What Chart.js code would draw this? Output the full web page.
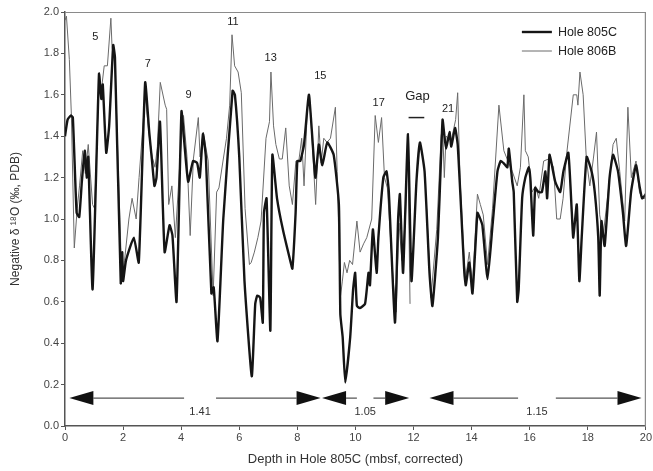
<!DOCTYPE html>
<html>
<head>
<meta charset="utf-8">
<title>Negative d18O, Hole 805C vs 806B</title>
<script src="https://cdn.jsdelivr.net/npm/chart.js@4.4.1/dist/chart.umd.min.js"></script>
<style>
    html, body { margin: 0; padding: 0; background: #fff; }
    #wrap { width: 653px; height: 471px; }
</style>
</head>
<body>
<div id="wrap"><canvas id="isoChart" width="653" height="471"></canvas></div>
<script>
// Hole 805C (garis tebal)
const depth805 = [0.00, 0.09, 0.20, 0.27, 0.40, 0.49, 0.58, 0.68, 0.75, 0.80, 0.95, 1.17, 1.25, 1.30, 1.42, 1.52, 1.66, 1.72, 1.92, 1.97,
    2.00, 2.10, 2.37, 2.54, 2.76, 2.90, 2.99, 3.08, 3.15, 3.27, 3.43, 3.60, 3.70, 3.84, 4.01, 4.12, 4.24, 4.41, 4.55, 4.64,
    4.75, 4.85, 5.04, 5.12, 5.25, 5.45, 5.77, 5.85, 6.00, 6.18, 6.43, 6.55, 6.62, 6.72, 6.81, 6.85, 6.94, 7.07, 7.14, 7.30,
    7.50, 7.77, 7.83, 7.94, 8.00, 8.10, 8.23, 8.40, 8.62, 8.74, 8.86, 9.03, 9.25, 9.43, 9.48, 9.56, 9.65, 9.82, 9.92, 9.99,
    10.05, 10.15, 10.33, 10.45, 10.50, 10.60, 10.73, 10.79, 10.96, 11.07, 11.15, 11.36, 11.47, 11.53, 11.64, 11.81, 11.93, 12.10, 12.22, 12.38,
    12.55, 12.65, 12.84, 12.95, 13.00, 13.05, 13.12, 13.24, 13.30, 13.43, 13.52, 13.63, 13.75, 13.80, 13.92, 14.03, 14.20, 14.27, 14.37, 14.55,
    14.72, 14.89, 15.00, 15.10, 15.23, 15.28, 15.40, 15.45, 15.57, 15.62, 15.74, 15.85, 15.97, 16.02, 16.12, 16.19, 16.30, 16.42, 16.54, 16.60,
    16.68, 16.75, 16.88, 17.05, 17.16, 17.33, 17.45, 17.50, 17.62, 17.71, 17.79, 17.96, 18.13, 18.24, 18.36, 18.41, 18.47, 18.58, 18.75, 18.87,
    19.04, 19.21, 19.32, 19.49, 19.66, 19.78, 19.87, 20.00];
const iso805 = [1.40, 1.48, 1.50, 1.49, 1.03, 1.01, 1.18, 1.33, 1.20, 1.30, 0.66, 1.70, 1.58, 1.65, 1.32, 1.45, 1.84, 1.78, 0.69, 0.84,
    0.70, 0.80, 0.91, 0.79, 1.66, 1.42, 1.29, 1.16, 1.20, 1.47, 0.84, 0.97, 0.92, 0.60, 1.52, 1.35, 1.18, 1.28, 1.27, 1.20,
    1.41, 1.30, 0.64, 0.67, 0.41, 1.00, 1.62, 1.60, 1.30, 0.70, 0.24, 0.59, 0.63, 0.62, 0.50, 1.03, 1.10, 0.46, 1.31, 1.10,
    0.95, 0.79, 0.76, 1.03, 1.28, 1.28, 1.36, 1.60, 1.20, 1.36, 1.26, 1.37, 1.31, 1.07, 0.54, 0.43, 0.21, 0.43, 0.66, 0.74,
    0.58, 0.57, 0.59, 0.74, 0.68, 0.95, 0.74, 0.91, 1.20, 1.23, 1.13, 0.50, 1.00, 1.12, 0.74, 1.41, 0.70, 1.18, 1.37, 1.23,
    0.74, 0.58, 0.91, 1.31, 1.48, 1.42, 1.34, 1.42, 1.35, 1.44, 1.36, 1.07, 0.74, 0.68, 0.79, 0.64, 1.03, 1.01, 0.97, 0.71,
    0.97, 1.23, 1.28, 1.27, 1.25, 1.34, 1.18, 1.13, 0.60, 0.66, 1.10, 1.20, 1.25, 1.20, 0.92, 1.15, 1.13, 1.13, 1.23, 1.10,
    1.31, 1.27, 1.18, 1.13, 1.23, 1.32, 1.03, 0.91, 1.07, 0.70, 0.91, 1.30, 1.23, 1.13, 0.91, 0.63, 0.99, 0.87, 1.20, 1.31,
    1.23, 1.03, 0.87, 1.13, 1.26, 1.16, 1.10, 1.12];

// Hole 806B (garis tipis), null = gap
const depth806 = [0.00, 0.05, 0.15, 0.22, 0.32, 0.42, 0.50, 0.61, 0.70, 0.80, 0.95, 1.02, 1.18, 1.25, 1.35, 1.46, 1.58, 1.62, 1.72, 1.92,
    1.97, 2.05, 2.20, 2.31, 2.45, 2.55, 2.76, 2.90, 3.00, 3.10, 3.18, 3.28, 3.45, 3.50, 3.57, 3.68, 3.80, 3.97, 4.08, 4.20,
    4.31, 4.42, 4.59, 4.65, 4.76, 4.93, 5.10, 5.22, 5.30, 5.44, 5.56, 5.67, 5.75, 5.84, 5.96, 6.07, 6.20, 6.35, 6.41, 6.52,
    6.64, 6.75, 6.92, 7.04, 7.09, 7.18, 7.26, 7.38, 7.48, 7.60, 7.72, 7.83, 7.95, 8.05, 8.15, 8.23, 8.35, 8.42, 8.52, 8.63,
    8.74, 8.82, 8.91, 9.02, 9.14, 9.31, 9.37, 9.48, 9.55, 9.62, 9.71, 9.80, 9.90, 10.05, 10.16, 10.28, 10.39, 10.56, 10.68, 10.79,
    10.90, 11.00, 11.10, 11.30, 11.40, 11.50, 11.60, 11.72, 11.80, 11.88, 12.10, 12.45, 12.60, 12.80, 12.95, 13.00, 13.06, 13.12, 13.30, 13.45,
    13.52, 13.60, 13.75, 13.80, 13.92, 14.03, 14.20, 14.30, 14.40, 14.55, 14.72, 14.94, 15.11, 15.25, 15.40, 15.57, 15.68, 15.80, 15.85, 15.95,
    16.08, 16.20, 16.31, 16.48, 16.65, 16.82, 16.93, 17.05, 17.15, 17.27, 17.50, 17.62, 17.66, 17.73, 17.84, 17.95, 18.07, 18.19, 18.30, 18.41,
    18.53, 18.70, 18.87, 18.98, 19.10, 19.27, 19.38, 19.50, 19.66, 19.78, 19.87, 20.00];
const iso806 = [1.96, 1.98, 1.77, 1.50, 0.86, 1.05, 1.16, 1.33, 1.22, 1.36, 1.07, 1.05, 1.71, 1.62, 1.74, 1.74, 1.97, 1.83, 1.75, 0.87,
    0.72, 0.80, 1.00, 1.10, 1.00, 1.20, 1.60, 1.40, 1.30, 1.25, 1.35, 1.66, 1.55, 1.53, 1.07, 1.16, 0.91, 1.31, 1.50, 1.30,
    0.92, 1.29, 1.49, 1.30, 1.42, 1.28, 0.63, 1.13, 1.15, 1.28, 1.39, 1.55, 1.89, 1.74, 1.71, 1.61, 1.05, 0.78, 0.79, 0.84,
    0.91, 0.99, 1.39, 1.47, 1.71, 1.45, 1.36, 1.29, 1.29, 1.44, 1.16, 1.07, 1.28, 1.28, 1.39, 1.16, 1.55, 1.60, 1.35, 1.07,
    1.45, 1.27, 1.39, 1.37, 1.39, 1.54, 1.23, 0.62, 0.70, 0.79, 0.74, 0.80, 0.78, 0.99, 0.84, 0.88, 0.91, 1.00, 1.50, 1.37,
    1.49, 1.20, 1.15, 0.70, 0.55, 0.98, 0.80, 1.00, 1.38, 0.59, null, 1.05, 0.62, 0.95, 1.40, 1.45, 1.20, 1.40, 1.38, 1.48,
    1.61, 1.20, 0.78, 0.72, 0.84, 0.68, 1.12, 1.07, 1.02, 0.78, 1.05, 1.55, 1.33, 1.28, 1.23, 1.16, 1.25, 1.60, 1.33, 1.30,
    1.13, 1.16, 1.10, 1.28, 1.29, 1.25, 1.00, 1.00, 1.10, 1.31, 1.60, 1.60, 1.55, 1.71, 1.60, 1.29, 1.16, 1.29, 1.42, 1.02,
    0.92, 1.13, 1.36, 1.39, 1.23, 0.99, 1.54, 1.20, 1.28, 1.13, 1.10, 1.10];

// Tick sumbu
const xTicks = [0, 2, 4, 6, 8, 10, 12, 14, 16, 18, 20];
const yTicks = [0.0, 0.2, 0.4, 0.6, 0.8, 1.0, 1.2, 1.4, 1.6, 1.8, 2.0];

// Label tahap isotop (kedalaman, nilai)
const stageNames = ['5', '7', '9', '11', '13', '15', '17', '21'];
const stageDepth = [1.04, 2.85, 4.25, 5.78, 7.08, 8.79, 10.80, 13.19];
const stageValue = [1.88, 1.75, 1.60, 1.95, 1.78, 1.69, 1.56, 1.53];

// Panah rasio laju sedimentasi
const arrowStart = [0.15, 8.85, 12.55];
const arrowEnd = [8.80, 11.85, 19.85];
const arrowGapStart = [4.10, 10.05, 15.60];
const arrowGapEnd = [5.20, 10.62, 16.90];
const arrowRatio = ['1.41', '1.05', '1.15'];
const arrowLevel = 0.135;

// Gap pada Hole 806B
const gapStart = 11.83;
const gapEnd = 12.37;

const FONT = '"Liberation Sans", Arial, Helvetica, sans-serif';

function toPoints(xs, ys) {
    return xs.map((x, i) => ({ x: x, y: ys[i] }));
}

// Plugin: bingkai, label, panah dan legenda
const decorPlugin = {
    id: 'decor',
    afterDatasetsDraw(chart) {
        const ctx = chart.ctx;
        const xs = chart.scales.x;
        const ys = chart.scales.y;
        const area = chart.chartArea;

        ctx.save();

        // bingkai atas & kanan
        ctx.strokeStyle = '#8a8a8a';
        ctx.lineWidth = 1.2;
        ctx.beginPath();
        ctx.moveTo(area.left, area.top + 0.5);
        ctx.lineTo(area.right - 0.5, area.top + 0.5);
        ctx.lineTo(area.right - 0.5, area.bottom);
        ctx.stroke();

        // label tahap
        ctx.fillStyle = '#222';
        ctx.font = '11px ' + FONT;
        ctx.textAlign = 'center';
        ctx.textBaseline = 'middle';
        stageNames.forEach((name, i) => {
            ctx.fillText(name, xs.getPixelForValue(stageDepth[i]), ys.getPixelForValue(stageValue[i]));
        });

        // Gap
        ctx.font = '13px ' + FONT;
        const gx1 = xs.getPixelForValue(gapStart);
        const gx2 = xs.getPixelForValue(gapEnd);
        ctx.fillText('Gap', (gx1 + gx2) / 2 + 1, ys.getPixelForValue(1.59));
        ctx.strokeStyle = '#222';
        ctx.lineWidth = 1.5;
        ctx.beginPath();
        const gy = ys.getPixelForValue(1.49);
        ctx.moveTo(gx1, gy);
        ctx.lineTo(gx2, gy);
        ctx.stroke();

        // panah
        const ay = ys.getPixelForValue(arrowLevel);
        const headLen = 24;
        const headHalf = 7;
        arrowStart.forEach((start, i) => {
            const x1 = xs.getPixelForValue(start);
            const x2 = xs.getPixelForValue(arrowEnd[i]);
            const g1 = xs.getPixelForValue(arrowGapStart[i]);
            const g2 = xs.getPixelForValue(arrowGapEnd[i]);

            ctx.strokeStyle = '#555';
            ctx.lineWidth = 1.2;
            ctx.beginPath();
            ctx.moveTo(x1 + headLen, ay);
            ctx.lineTo(g1, ay);
            ctx.moveTo(g2, ay);
            ctx.lineTo(x2 - headLen, ay);
            ctx.stroke();

            ctx.fillStyle = '#111';
            ctx.beginPath();
            ctx.moveTo(x1, ay);
            ctx.lineTo(x1 + headLen, ay - headHalf);
            ctx.lineTo(x1 + headLen, ay + headHalf);
            ctx.closePath();
            ctx.fill();
            ctx.beginPath();
            ctx.moveTo(x2, ay);
            ctx.lineTo(x2 - headLen, ay - headHalf);
            ctx.lineTo(x2 - headLen, ay + headHalf);
            ctx.closePath();
            ctx.fill();

            ctx.fillStyle = '#333';
            ctx.font = '11px ' + FONT;
            ctx.fillText(arrowRatio[i], (g1 + g2) / 2, ay + 14);
        });

        // legenda
        const lx = area.right - 124;
        const sets = chart.data.datasets;
        ctx.textAlign = 'left';
        ctx.font = '12.5px ' + FONT;
        sets.forEach((ds, i) => {
            const ly = area.top + 20 + i * 19;
            ctx.strokeStyle = ds.borderColor;
            ctx.lineWidth = ds.borderWidth;
            ctx.beginPath();
            ctx.moveTo(lx, ly);
            ctx.lineTo(lx + 30, ly);
            ctx.stroke();
            ctx.fillStyle = '#222';
            ctx.fillText(ds.label, lx + 36, ly + 1);
        });

        ctx.restore();
    }
};

document.addEventListener('DOMContentLoaded', function() {
    const ctx = document.getElementById('isoChart');

    new Chart(ctx, {
        type: 'line',
        data: {
            datasets: [{
                label: 'Hole 805C',
                data: toPoints(depth805, iso805),
                borderColor: '#151515',
                borderWidth: 2.4,
                pointRadius: 0,
                tension: 0.15,
                order: 1
            }, {
                label: 'Hole 806B',
                data: toPoints(depth806, iso806),
                borderColor: '#6a6a6a',
                borderWidth: 1,
                pointRadius: 0,
                tension: 0,
                spanGaps: false,
                order: 2
            }]
        },
        options: {
            responsive: false,
            animation: false,
            layout: { padding: { top: 12, right: 4, left: 0, bottom: 0 } },
            plugins: {
                legend: { display: false },
                tooltip: { enabled: false }
            },
            scales: {
                x: {
                    type: 'linear',
                    min: 0,
                    max: 20,
                    afterBuildTicks: function(scale) {
                        scale.ticks = xTicks.map(v => ({ value: v }));
                    },
                    afterFit: function(scale) { scale.height = 45; },
                    border: { display: true, color: '#555', width: 1.5 },
                    grid: { display: true, drawOnChartArea: false, drawTicks: true, tickLength: 4, color: '#555' },
                    ticks: {
                        color: '#444',
                        font: { family: FONT, size: 11 },
                        padding: 1,
                        maxRotation: 0
                    },
                    title: {
                        display: true,
                        text: 'Depth in Hole 805C (mbsf, corrected)',
                        color: '#333',
                        font: { family: FONT, size: 13 },
                        padding: { top: 0, bottom: 4 }
                    }
                },
                y: {
                    min: 0,
                    max: 2,
                    afterBuildTicks: function(scale) {
                        scale.ticks = yTicks.map(v => ({ value: v }));
                    },
                    afterFit: function(scale) { scale.width = 65; },
                    border: { display: true, color: '#555', width: 1.5 },
                    grid: { display: true, drawOnChartArea: false, drawTicks: true, tickLength: 4, color: '#555' },
                    ticks: {
                        color: '#444',
                        font: { family: FONT, size: 11 },
                        padding: 2,
                        callback: function(value) { return value.toFixed(1); }
                    },
                    title: {
                        display: true,
                        text: 'Negative \u03b4 \u00b9\u2078O (\u2030, PDB)',
                        color: '#333',
                        font: { family: FONT, size: 12 },
                        padding: { top: 8, bottom: 2 }
                    }
                }
            }
        },
        plugins: [decorPlugin]
    });
});
</script>
</body>
</html>
